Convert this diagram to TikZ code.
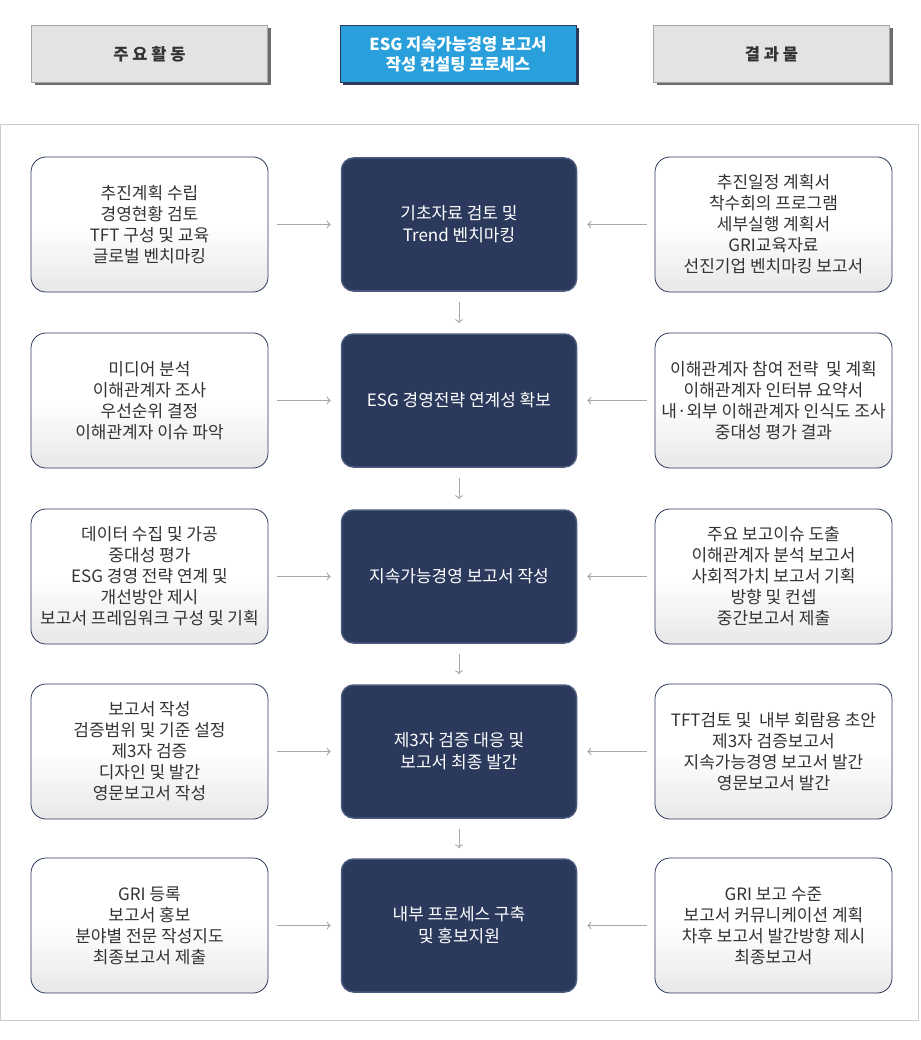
\documentclass[tikz,border=0pt]{standalone}
\usepackage{fontspec}
\setmainfont{Noto Sans CJK KR}
\usetikzlibrary{shadows,arrows.meta}
\definecolor{navy}{HTML}{2B3A5C}
\definecolor{navyedge}{HTML}{4A5A7C}
\definecolor{hdrgray}{HTML}{E3E3E3}
\definecolor{hdrblue}{HTML}{29A0DB}
\definecolor{txt}{HTML}{333333}
\definecolor{arrgray}{HTML}{A8A8A8}
\definecolor{frame}{HTML}{CCCCCC}
\tikzset{
  hdr/.style={minimum width=236pt, minimum height=57pt, inner sep=0pt, align=center,
    font=\fontsize{16.5}{20}\selectfont\bfseries},
  hdrg/.style={hdr, fill=hdrgray, draw=gray!70, text=txt,
    drop shadow={shadow xshift=3pt, shadow yshift=-3pt, fill=gray!85!black, opacity=1}},
  hdrb/.style={hdr, fill=hdrblue, draw=navy, text=white,
    drop shadow={shadow xshift=3pt, shadow yshift=-3pt, fill=navy, opacity=1}},
  side/.style={rounded corners=15pt, draw=navy, line width=0.8pt, minimum width=237pt,
    minimum height=135pt, inner sep=0pt, align=center, text=txt,
    top color=white, bottom color=black!9, middle color=white,
    font=\fontsize{17}{21}\selectfont},
  mid/.style={rounded corners=12pt, fill=navy, draw=navyedge, line width=1.5pt,
    minimum width=235pt, minimum height=133pt, inner sep=0pt, align=center, text=white,
    font=\fontsize{17}{22}\selectfont},
  arr/.style={draw=arrgray, line width=0.9pt, -{To[length=4pt,width=8pt]}},
}
\begin{document}
\begin{tikzpicture}[x=1pt,y=-1pt]
\useasboundingbox (0,0) rectangle (920,1040);
\fill[white] (0,0) rectangle (920,1040);
% headers
\node[hdrg] (H1) at (149.5,54) {주 요 활 동};
\node[hdrb] (H2) at (458,54) {ESG 지속가능경영 보고서\\작성 컨설팅 프로세스};
\node[hdrg] (H3) at (771.5,54) {결 과 물};
% frame
\draw[frame, line width=1pt] (0.5,124.5) rectangle (918.5,1020);
% row 1
\node[side] (L1) at (149.5,224.5) {추진계획 수립\\경영현황 검토\\TFT 구성 및 교육\\글로벌 벤치마킹};
\node[mid] (M1) at (459,224.5) {기초자료 검토 및\\Trend 벤치마킹};
\node[side] (R1) at (773.5,224.5) {추진일정 계획서\\착수회의 프로그램\\세부실행 계획서\\GRI교육자료\\선진기업 벤치마킹 보고서};
% row 2
\node[side] (L2) at (149.5,400.5) {미디어 분석\\이해관계자 조사\\우선순위 결정\\이해관계자 이슈 파악};
\node[mid] (M2) at (459,400.5) {ESG 경영전략 연계성 확보};
\node[side] (R2) at (773.5,400.5) {이해관계자 참여 전략~ 및 계획\\이해관계자 인터뷰 요약서\\내·외부 이해관계자 인식도 조사\\중대성 평가 결과};
% row 3
\node[side] (L3) at (149.5,576.5) {데이터 수집 및 가공\\중대성 평가\\ESG 경영 전략 연계 및\\개선방안 제시\\보고서 프레임워크 구성 및 기획};
\node[mid] (M3) at (459,576.5) {지속가능경영 보고서 작성};
\node[side] (R3) at (773.5,576.5) {주요 보고이슈 도출\\이해관계자 분석 보고서\\사회적가치 보고서 기획\\방향 및 컨셉\\중간보고서 제출};
% row 4
\node[side] (L4) at (149.5,751.5) {보고서 작성\\검증범위 및 기준 설정\\제3자 검증\\디자인 및 발간\\영문보고서 작성};
\node[mid] (M4) at (459,751.5) {제3자 검증 대응 및\\보고서 최종 발간};
\node[side] (R4) at (773.5,751.5) {TFT검토 및~ 내부 회람용 초안\\제3자 검증보고서\\지속가능경영 보고서 발간\\영문보고서 발간};
% row 5
\node[side] (L5) at (149.5,925.5) {GRI 등록\\보고서 홍보\\분야별 전문 작성지도\\최종보고서 제출};
\node[mid] (M5) at (459,925.5) {내부 프로세스 구축\\및 홍보지원};
\node[side] (R5) at (773.5,925.5) {GRI 보고 수준\\보고서 커뮤니케이션 계획\\차후 보고서 발간방향 제시\\최종보고서};
% horizontal arrows
\foreach \i in {1,...,5}{
  \draw[arr] ([xshift=9pt]L\i.east) -- ([xshift=-10pt]M\i.west);
  \draw[arr] ([xshift=-8pt]R\i.west) -- ([xshift=10pt]M\i.east);
}
% vertical arrows
\foreach \i/\j in {1/2,2/3,3/4,4/5}{
  \draw[arr] ([yshift=-10pt]M\i.south) -- ([yshift=10pt]M\j.north);
}
\end{tikzpicture}
\end{document}
